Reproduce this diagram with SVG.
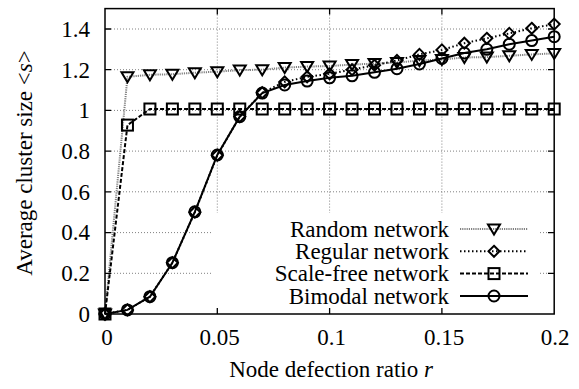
<svg xmlns="http://www.w3.org/2000/svg" xmlns:xlink="http://www.w3.org/1999/xlink" width="579" height="389" viewBox="0 0 579 389" font-family="'Liberation Serif', 'Times New Roman', 'DejaVu Serif', serif">
<style>
text{font-family:'Liberation Serif','Times New Roman','DejaVu Serif',serif;font-size:23px;fill:#000}
.grid{stroke:#808080;stroke-width:1;stroke-dasharray:1,2;fill:none}
.tick{stroke:#000;stroke-width:1.3;fill:none}
.rnd{stroke:#808080;stroke-width:2;stroke-dasharray:1.2,1;fill:none}
.reg{stroke:#000;stroke-width:2;stroke-dasharray:1.5,2.5;fill:none}
.sf{stroke:#000;stroke-width:2;stroke-dasharray:4,2;fill:none}
.bi{stroke:#000;stroke-width:2;fill:none}
.mk{stroke:#000;stroke-width:2;fill:none}
.yl{text-anchor:end}
.xl{text-anchor:middle}
</style>
<defs>
<path id="tri" class="mk" d="M-6,-4.5 L6,-4.5 L0,5.5 Z"/>
<path id="dia" class="mk" d="M0,-5.5 L5.5,0 L0,5.5 L-5.5,0 Z"/>
<rect id="sq" class="mk" x="-5.5" y="-5.5" width="11" height="11"/>
<circle id="cir" class="mk" r="5.5"/>
</defs>
<rect width="579" height="389" fill="#fff"/>
<g id="grid">
<path class="grid" d="M111,273.3H548M111,232.6H548M111,191.8H548M111,151.1H548M111,110.4H548M111,69.7H548M111,29H548"/>
<path class="grid" d="M217.3,14.6V308M329.6,14.6V308M441.9,14.6V308"/>
</g>
<g id="connectors">
<polyline id="random-line" class="rnd" points="105,314 127.46,76.8 149.92,74.8 172.38,74.2 194.84,72.7 217.3,71.7 239.76,70.1 262.22,69.7 284.68,67.6 307.14,66.6 329.6,66 352.06,64.6 374.52,63.6 396.98,62.6 419.44,60.5 441.9,59.5 464.36,57.5 486.82,57.1 509.28,55.8 531.74,54.4 554.2,53.4"/>
<polyline id="regular-line" class="reg" points="105,314 127.46,309.9 149.92,296.7 172.38,262.7 194.84,212.2 217.3,155.2 239.76,116.5 262.22,92.7 284.68,81.9 307.14,76.8 329.6,73.8 352.06,69.7 374.52,65.2 396.98,60.5 419.44,54.4 441.9,49.9 464.36,43.2 486.82,38.3 509.28,33.4 531.74,28.3 554.2,24.1"/>
<polyline id="scalefree-line" class="sf" points="105,314 127.46,125.1 149.92,109 172.38,109 194.84,109 217.3,109 239.76,109 262.22,109 284.68,109 307.14,109 329.6,109 352.06,109 374.52,109 396.98,109 419.44,109 441.9,109 464.36,109 486.82,109 509.28,109 531.74,109 554.2,109"/>
<polyline id="bimodal-line" class="bi" points="105,314 127.46,309.9 149.92,296.7 172.38,262.7 194.84,211.8 217.3,155 239.76,116.7 262.22,93.1 284.68,85 307.14,81.1 329.6,77.8 352.06,75.8 374.52,72.3 396.98,68.7 419.44,64 441.9,58.5 464.36,53 486.82,49.3 509.28,44.2 531.74,40.6 554.2,36.7"/>
</g>
<g id="random-points">
<use href="#tri" x="105" y="314"/><use href="#tri" x="127.46" y="76.8"/><use href="#tri" x="149.92" y="74.8"/><use href="#tri" x="172.38" y="74.2"/><use href="#tri" x="194.84" y="72.7"/><use href="#tri" x="217.3" y="71.7"/><use href="#tri" x="239.76" y="70.1"/><use href="#tri" x="262.22" y="69.7"/><use href="#tri" x="284.68" y="67.6"/><use href="#tri" x="307.14" y="66.6"/><use href="#tri" x="329.6" y="66"/><use href="#tri" x="352.06" y="64.6"/><use href="#tri" x="374.52" y="63.6"/><use href="#tri" x="396.98" y="62.6"/><use href="#tri" x="419.44" y="60.5"/><use href="#tri" x="441.9" y="59.5"/><use href="#tri" x="464.36" y="57.5"/><use href="#tri" x="486.82" y="57.1"/><use href="#tri" x="509.28" y="55.8"/><use href="#tri" x="531.74" y="54.4"/><use href="#tri" x="554.2" y="53.4"/>
</g>
<g id="regular-points">
<use href="#dia" x="105" y="314"/><use href="#dia" x="127.46" y="309.9"/><use href="#dia" x="149.92" y="296.7"/><use href="#dia" x="172.38" y="262.7"/><use href="#dia" x="194.84" y="212.2"/><use href="#dia" x="217.3" y="155.2"/><use href="#dia" x="239.76" y="116.5"/><use href="#dia" x="262.22" y="92.7"/><use href="#dia" x="284.68" y="81.9"/><use href="#dia" x="307.14" y="76.8"/><use href="#dia" x="329.6" y="73.8"/><use href="#dia" x="352.06" y="69.7"/><use href="#dia" x="374.52" y="65.2"/><use href="#dia" x="396.98" y="60.5"/><use href="#dia" x="419.44" y="54.4"/><use href="#dia" x="441.9" y="49.9"/><use href="#dia" x="464.36" y="43.2"/><use href="#dia" x="486.82" y="38.3"/><use href="#dia" x="509.28" y="33.4"/><use href="#dia" x="531.74" y="28.3"/><use href="#dia" x="554.2" y="24.1"/>
</g>
<g id="scalefree-points">
<use href="#sq" x="105" y="314"/><use href="#sq" x="127.46" y="125.1"/><use href="#sq" x="149.92" y="109"/><use href="#sq" x="172.38" y="109"/><use href="#sq" x="194.84" y="109"/><use href="#sq" x="217.3" y="109"/><use href="#sq" x="239.76" y="109"/><use href="#sq" x="262.22" y="109"/><use href="#sq" x="284.68" y="109"/><use href="#sq" x="307.14" y="109"/><use href="#sq" x="329.6" y="109"/><use href="#sq" x="352.06" y="109"/><use href="#sq" x="374.52" y="109"/><use href="#sq" x="396.98" y="109"/><use href="#sq" x="419.44" y="109"/><use href="#sq" x="441.9" y="109"/><use href="#sq" x="464.36" y="109"/><use href="#sq" x="486.82" y="109"/><use href="#sq" x="509.28" y="109"/><use href="#sq" x="531.74" y="109"/><use href="#sq" x="554.2" y="109"/>
</g>
<g id="bimodal-points">
<use href="#cir" x="105" y="314"/><use href="#cir" x="127.46" y="309.9"/><use href="#cir" x="149.92" y="296.7"/><use href="#cir" x="172.38" y="262.7"/><use href="#cir" x="194.84" y="211.8"/><use href="#cir" x="217.3" y="155"/><use href="#cir" x="239.76" y="116.7"/><use href="#cir" x="262.22" y="93.1"/><use href="#cir" x="284.68" y="85"/><use href="#cir" x="307.14" y="81.1"/><use href="#cir" x="329.6" y="77.8"/><use href="#cir" x="352.06" y="75.8"/><use href="#cir" x="374.52" y="72.3"/><use href="#cir" x="396.98" y="68.7"/><use href="#cir" x="419.44" y="64"/><use href="#cir" x="441.9" y="58.5"/><use href="#cir" x="464.36" y="53"/><use href="#cir" x="486.82" y="49.3"/><use href="#cir" x="509.28" y="44.2"/><use href="#cir" x="531.74" y="40.6"/><use href="#cir" x="554.2" y="36.7"/>
</g>
<g id="legend">
<rect x="211" y="213" width="329" height="95" fill="#fff"/>
<text class="yl" x="449" y="236.7">Random network</text>
<line class="rnd" x1="460" y1="229" x2="528" y2="229"/><use href="#tri" x="494" y="229"/>
<text class="yl" x="449" y="259">Regular network</text>
<line class="reg" x1="460" y1="251.3" x2="528" y2="251.3"/><use href="#dia" x="494" y="251.3"/>
<text class="yl" x="449" y="281.3">Scale-free network</text>
<line class="sf" x1="460" y1="273.6" x2="528" y2="273.6"/><use href="#sq" x="494" y="273.6"/>
<text class="yl" x="449" y="303.6">Bimodal network</text>
<line class="bi" x1="460" y1="296" x2="528" y2="296"/><use href="#cir" x="494" y="296"/>
</g>
<g id="axes">
<rect x="105" y="8.6" width="449.2" height="305.4" fill="none" stroke="#000" stroke-width="1.5"/>
<path class="tick" d="M105,273.3h6M105,232.6h6M105,191.8h6M105,151.1h6M105,110.4h6M105,69.7h6M105,29h6M554,273.3h-6M554,232.6h-6M554,191.8h-6M554,151.1h-6M554,110.4h-6M554,69.7h-6M554,29h-6M217.3,314v-6M329.6,314v-6M441.9,314v-6M217.3,8.6v6M329.6,8.6v6M441.9,8.6v6"/>
<text class="yl" x="90" y="321.8">0</text>
<text class="yl" x="90" y="281.1">0.2</text>
<text class="yl" x="90" y="240.4">0.4</text>
<text class="yl" x="90" y="199.6">0.6</text>
<text class="yl" x="90" y="158.9">0.8</text>
<text class="yl" x="90" y="118.2">1</text>
<text class="yl" x="90" y="77.5">1.2</text>
<text class="yl" x="90" y="36.8">1.4</text>
<text class="xl" x="107" y="345">0</text>
<text class="xl" x="219.5" y="345">0.05</text>
<text class="xl" x="331.5" y="345">0.1</text>
<text class="xl" x="444" y="345">0.15</text>
<text class="xl" x="555" y="345">0.2</text>
<text class="xl" x="331" y="377">Node defection ratio <tspan font-style="italic">r</tspan></text>
<text class="xl" transform="translate(32,163) rotate(-90)">Average cluster size &lt;<tspan font-style="italic">s</tspan>&gt;</text>
</g>
</svg>
